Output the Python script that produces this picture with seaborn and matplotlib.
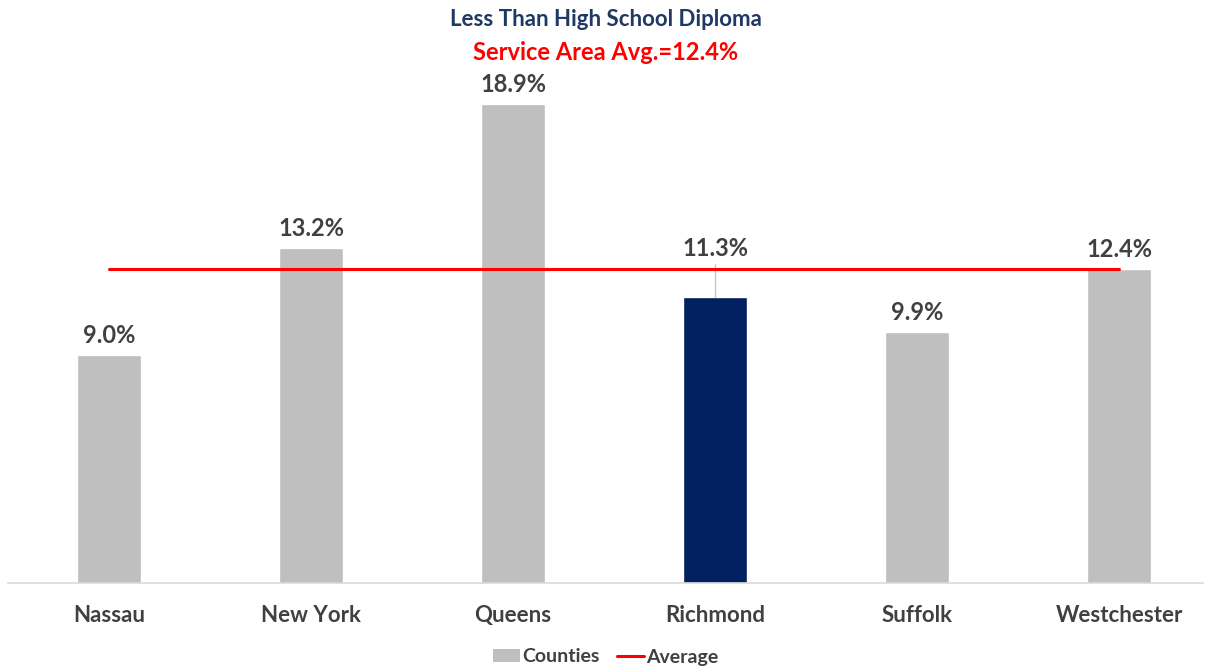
import matplotlib
matplotlib.use("Agg")
import matplotlib.pyplot as plt
from matplotlib.patches import Patch
from matplotlib.lines import Line2D
import seaborn as sns
import pandas as pd

counties = ["Nassau", "New York", "Queens", "Richmond", "Suffolk", "Westchester"]
rates = [9.0, 13.2, 18.9, 11.3, 9.9, 12.4]
service_avg = 12.4
highlight = "Richmond"

GRAY = "#BFBFBF"
NAVY = "#002060"
RED = "#FF0000"
TEXT = "#404040"

sns.set_theme(style="white")
plt.rcParams["font.family"] = ["Lato", "DejaVu Sans"]

df = pd.DataFrame({"county": counties, "rate": rates})
colors = {c: (NAVY if c == highlight else GRAY) for c in counties}

fig = plt.figure(figsize=(12.12, 6.68), dpi=100)
W, H = 1212, 668
left_px, right_px = 8, 1203
bottom_px, top_px = 583, 76
ax = fig.add_axes([left_px / W, (H - bottom_px) / H,
                   (right_px - left_px) / W, (bottom_px - top_px) / H])

sns.barplot(data=df, x="county", y="rate", hue="county", palette=colors,
            width=0.32, legend=False, ax=ax, saturation=1)

# service-area average line across the county positions
xs = list(range(len(counties)))
ax.plot(xs, [service_avg] * len(xs), color=RED, lw=2.2, zorder=3)

step = 202
ax.set_xlim(-0.5, -0.5 + (right_px - left_px) / step)
ax.set_ylim(0, 20)

for i, (c, v) in enumerate(zip(counties, rates)):
    if c == highlight:
        ax.plot([i, i], [v, 12.6], color="#C8C8C8", lw=1, zorder=2)
        ax.text(i, 13.2, f"{v:.1f}%", ha="center", va="center",
                fontsize=17, fontweight="bold", color=TEXT)
    else:
        ax.annotate(f"{v:.1f}%", (i, v), xytext=(0, 14), textcoords="offset points",
                    ha="center", va="center", fontsize=17, fontweight="bold", color=TEXT)

ax.set_xlabel("")
ax.set_ylabel("")
ax.set_yticks([])
for s in ["top", "right", "left"]:
    ax.spines[s].set_visible(False)
ax.spines["bottom"].set_color("#D9D9D9")
ax.spines["bottom"].set_linewidth(1.2)
ax.tick_params(axis="x", length=0, pad=16, labelsize=16, labelcolor=TEXT)
for lbl in ax.get_xticklabels():
    lbl.set_fontweight("bold")

fig.text(0.5, 1 - 20 / H, "Less Than High School Diploma", ha="center", va="center",
         fontsize=16, fontweight="bold", color="#1F3864")
fig.text(0.5, 1 - 52 / H, f"Service Area Avg.={service_avg:.1f}%", ha="center", va="center",
         fontsize=17, fontweight="bold", color=RED)

handles = [Patch(facecolor=GRAY, edgecolor="none", label="Counties"),
           Line2D([0], [0], color=RED, lw=2.2, label="Average")]
leg = fig.legend(handles=handles, loc="center", bbox_to_anchor=(0.5, 1 - 657 / H), ncol=2,
                 frameon=False, fontsize=14, handlelength=1.35, handleheight=0.6,
                 handletextpad=0.15, columnspacing=0.9)
for t in leg.get_texts():
    t.set_color(TEXT)
    t.set_fontweight("bold")

fig.savefig("out.png", dpi=100)
